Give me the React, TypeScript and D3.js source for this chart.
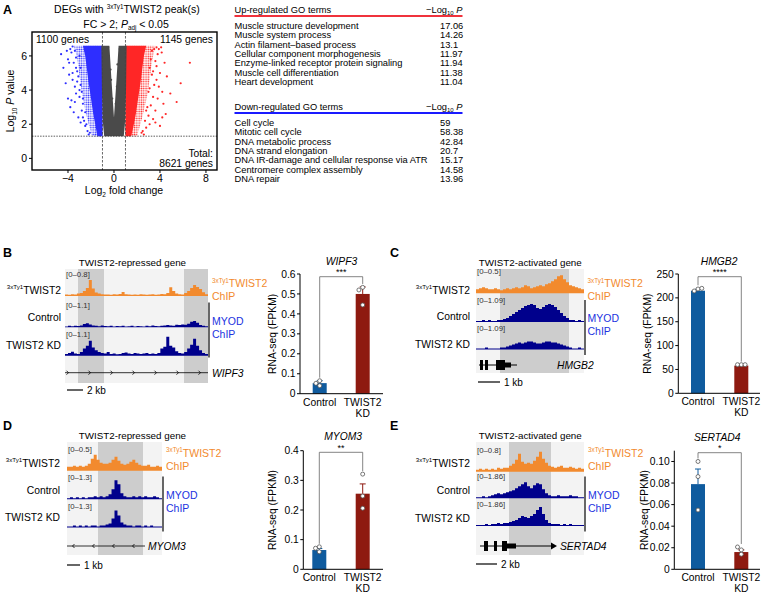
import React from "react";
import * as d3 from "d3";

const FONT = "'Liberation Sans', Arial, Helvetica, sans-serif";
const ORANGE = "#f28a2e";
const NAVY = "#00008c";
const LBLUE = "#2233e0";
const CTRL = "#0f5b9e";
const KDC = "#8e1a10";
const VBLUE = "#2e2eff";
const VRED = "#ff2626";
const VGRAY = "#4a4a4a";

// ---------------- Panel A data ----------------
const upGoTerms = [
  "Muscle structure development",
  "Muscle system process",
  "Actin filament–based process",
  "Cellular component morphogenesis",
  "Enzyme-linked receptor protein signaling",
  "Muscle cell differentiation",
  "Heart development",
];
const upGoLogP = [17.06, 14.26, 13.1, 11.97, 11.94, 11.38, 11.04];
const downGoTerms = [
  "Cell cycle",
  "Mitotic cell cycle",
  "DNA metabolic process",
  "DNA strand elongation",
  "DNA IR-damage and cellular response via ATR",
  "Centromere complex assembly",
  "DNA repair",
];
const downGoLogP = [59, 58.38, 42.84, 20.7, 15.17, 14.58, 13.96];

const volcanoXTicks = [-4, 0, 4, 8];
const volcanoYTicks = [0, 2, 4, 6];
const fcCutoffs = [-1, 1];
const pCutoff = 1.3;
const downCount = "1100 genes";
const upCount = "1145 genes";
const totalCount = "8621 genes";

// dense envelopes of points [log2FC, -log10 P]
const grayEnvelope: [number, number][] = [
  [-1.1, 6.6], [-0.4, 6.6], [-0.22, 4.6], [0, 2.4], [0.22, 4.6], [0.4, 6.6], [1.1, 6.6],
  [1.05, 4.0], [0.95, 2.0], [0.85, 1.3], [-0.85, 1.3], [-0.95, 2.0], [-1.05, 4.0],
];
const blueCore: [number, number][] = [
  [-1, 6.6], [-2.7, 6.6], [-2.5, 6.0], [-2.35, 5.2], [-2.2, 4.4], [-2.0, 3.5], [-1.8, 2.6], [-1.6, 1.9], [-1.45, 1.3], [-1, 1.3],
];
const blueFringe: [number, number][] = [
  [-1, 6.6], [-3.5, 6.6], [-3.25, 6.0], [-3.1, 5.4], [-2.95, 4.6], [-2.75, 3.7], [-2.5, 2.8], [-2.2, 2.0], [-1.9, 1.3], [-1, 1.3],
];
const redCore: [number, number][] = [
  [1, 6.6], [2.8, 6.6], [2.6, 6.0], [2.45, 5.2], [2.3, 4.4], [2.1, 3.5], [1.9, 2.6], [1.7, 1.9], [1.5, 1.3], [1, 1.3],
];
const redFringe: [number, number][] = [
  [1, 6.6], [3.6, 6.6], [3.4, 6.0], [3.25, 5.4], [3.1, 4.6], [2.9, 3.7], [2.6, 2.8], [2.3, 2.0], [2.0, 1.3], [1, 1.3],
];
const blueScatter: [number, number][] = [
  [-4.4, 5.3], [-4.0, 5.8], [-3.7, 6.2], [-3.6, 6.55], [-3.4, 6.3], [-3.8, 3.0], [-3.7, 3.4],
  [-3.4, 4.2], [-3.1, 4.8], [-3.0, 3.6], [-2.8, 2.8], [-2.7, 2.4], [-2.5, 1.9], [-3.1, 2.4], [-3.2, 5.1],
  [-3.5, 5.6], [-3.3, 5.9], [-2.9, 4.3], [-2.7, 3.2], [-3.6, 4.6], [-3.9, 4.9], [-4.6, 6.1], [-4.0, 3.5],
  [-2.9, 5.3], [-3.0, 6.0], [-2.6, 2.2], [-2.3, 1.6], [-2.1, 1.5], [-2.4, 2.0], [-3.3, 3.8], [-4.2, 4.4],
  [-2.8, 3.9], [-3.0, 4.0], [-3.6, 5.0], [-4.1, 6.3], [-3.2, 4.5], [-2.5, 2.7], [-2.7, 3.5], [-3.4, 3.3],
  [-3.8, 6.4], [-3.3, 5.3], [-2.9, 2.1], [-3.5, 2.7], [-2.2, 1.4], [-3.9, 5.6],
];
const redScatter: [number, number][] = [
  [6.6, 5.6], [5.8, 4.4], [5.45, 3.3], [4.5, 2.6], [4.15, 6.2], [4.9, 3.8], [3.7, 5.4], [4.6, 4.8],
  [3.6, 2.8], [4.0, 1.9], [3.1, 2.0], [3.5, 6.4], [3.8, 6.1], [3.3, 4.9], [3.9, 4.2], [3.4, 3.6],
  [3.0, 2.5], [2.8, 1.8], [2.5, 1.6], [3.2, 3.1], [4.3, 3.2], [3.6, 5.7], [3.2, 5.8], [3.5, 4.3],
  [2.9, 3.0], [4.0, 5.0], [3.4, 2.3], [2.7, 2.2], [3.8, 3.5], [3.1, 4.1], [3.7, 6.5], [4.4, 5.6],
  [3.0, 3.9], [2.6, 1.4], [3.3, 6.3], [2.8, 2.8], [3.6, 2.1], [4.2, 2.4], [3.9, 6.4], [3.1, 5.3],
  [4.1, 6.5], [3.4, 5.1], [2.4, 1.5], [3.7, 4.6], [4.2, 3.9],
];
const grayScatter: [number, number][] = [
  [-0.3, 5.2], [0.3, 5.5], [-0.15, 3.5], [0.15, 3.2], [-0.5, 6.5], [0.5, 6.4], [-0.25, 4.6], [0.25, 4.2],
];

// ---------------- Tracks (normalized coverage, 0–20 = full track range) ----------------
const bTwist = [1.5,1.2,1.8,1.5,2.5,3,5,8,16,7.5,3.5,2.5,1.8,1.5,1.5,1.2,1.8,1.5,2,4,1.8,1.5,1.2,1.5,1.2,1.8,1.5,1.2,1.5,1.8,1.2,1.5,2,1.8,3,8.7,5,2.5,1.8,1.5,3,5,8,11,9,7,3.8,1.8];
const bControl = [0.9,1.5,1.1,1.6,1.3,1.8,3.3,4,2.9,1.8,1.5,1.1,1.8,1.3,1.1,1.5,0.9,1.3,1.1,1.6,0.9,1.1,1.5,0.9,1.3,1.1,0.9,1.5,1.1,1.8,1.3,1.1,1.5,1.8,2.2,1.8,1.5,2.5,2.2,2.7,2.5,3.6,5.5,6.4,4.5,2.2,1.5,1.1];
const bKD = [1.8,2.7,4,2.2,1.8,3.6,7.3,10,15,8.2,5.5,3.6,2.7,2.2,3.6,1.8,2.2,1.5,1.8,2.7,3.3,2.2,1.8,2.7,2.2,1.8,2.2,2.7,1.8,2.2,1.8,2.7,7.3,9,19,10,8.2,4.5,2.7,2.2,3.6,7.3,11,17,10,5.5,2.7,1.8];

const cTwist = [4,5,6,5,4,4,5,4,3,4,5,4,5,6,5,6,8,7,5,6,7,8,7,9,10,12,14,17,18,14,11,8,7,6,5,4];
const cControl = [1,1,2,1,2,1,1,2,2,3,4,6,8,10,12,14,16,17,18,17,14,13,15,17,18,17,15,12,9,6,4,2,2,1,2,1];
const cKD = [1,1,1,2,1,1,1,1,2,2,3,4,5,6,7,6,7,8,8,7,6,6,7,8,8,7,7,6,5,4,3,2,1,1,2,1];

const dTwist = [4,4,5,4,5,4,5,7,12,16,11,8,7,7,8,11,14,10,7,6,7,9,11,8,6,5,5,6,4,4,5,4];
const dControl = [1,2,1,2,1,2,1,2,2,3,2,3,2,3,5,10,19,15,6,3,2,2,3,2,3,2,3,2,2,3,2,1];
const dKD = [1,1,2,1,2,1,2,1,2,2,1,2,2,3,4,9,17,12,5,3,2,2,1,2,2,1,2,1,2,1,1,1];

const eTwist = [2,3,2,3,2,3,2,4,3,4,4,6,8,12,18,10,8,9,8,11,15,20,13,9,6,5,4,5,6,4,4,5,4,3,4,3];
const eControl = [1,1,2,1,2,3,4,5,4,5,6,7,8,10,12,14,16,12,10,13,15,14,9,5,3,2,2,3,2,2,2,3,2,2,1,1];
const eKD = [1,1,1,2,1,2,2,3,2,3,3,4,5,6,8,10,9,8,10,12,16,19,12,6,3,2,2,2,1,2,1,2,1,1,1,1];

// ---------------- RNA-seq bar data ----------------
const conditions = ["Control", "TWIST2 KD"];
const wipf3Mean = [0.053, 0.5];
const wipf3Err = [0.012, 0.035];
const wipf3Pts = [[0.065, 0.052, 0.04], [0.533, 0.52, 0.445]];
const hmgb2Mean = [215, 58];
const hmgb2Err = [3, 1.5];
const hmgb2Pts = [[218.6, 214.4, 220], [60, 60, 60]];
const myom3Mean = [0.065, 0.255];
const myom3Err = [0.005, 0.033];
const myom3Pts = [[0.076, 0.071, 0.059], [0.321, 0.247, 0.206]];
const sertad4Mean = [0.079, 0.016];
const sertad4Err = [0.014, 0.002];
const sertad4Pts = [[0.1, 0.086, 0.055], [0.018, 0.0207, 0.014]];

// ---------------- helpers ----------------
function SupText({ x, y, anchor, color, size = 10.3, main = "TWIST2" }: any) {
  return (
    <text x={x} y={y} textAnchor={anchor} fill={color} fontSize={size}>
      <tspan fontSize={size * 0.6} dy={-size * 0.4}>3xTy1</tspan>
      <tspan dy={size * 0.4}>{main}</tspan>
    </text>
  );
}

function Coverage({ x0, x1, base, values, color, h = 20 }: any) {
  const x = d3.scaleLinear().domain([0, values.length]).range([x0, x1]);
  const y = d3.scaleLinear().domain([0, 20]).range([base, base - h]);
  const ext = [...values, values[values.length - 1]];
  const a = d3.area<number>().x((_, i) => x(i)).y0(base).y1((d) => y(d)).curve(d3.curveStepAfter);
  return <path d={a(ext) || ""} fill={color} />;
}

function TrackBlock({ x0, x1, top, bottom, highlights, rows }: any) {
  return (
    <g>
      <rect x={x0} y={top} width={x1 - x0} height={bottom - top} fill="#f3f3f3" />
      {highlights.map((h: number[], i: number) => (
        <rect key={i} x={h[0]} y={top} width={h[1] - h[0]} height={bottom - top} fill="#cdcdcd" />
      ))}
      {rows.map((r: any, i: number) => (
        <g key={i}>
          <Coverage x0={x0} x1={x1} base={r.base} values={r.values} color={r.color} />
          <text x={x0 + 1} y={r.base - 19} fontSize={7.8} fill="#333">{r.range}</text>
        </g>
      ))}
    </g>
  );
}

function Chevrons({ x0, x1, y, dir, step = 22, start = 3 }: any) {
  const xs = d3.range(x0 + start, x1 - 2, step);
  return (
    <g stroke="#000" strokeWidth={0.8} fill="none">
      <line x1={x0} x2={x1} y1={y} y2={y} />
      {xs.map((cx, i) => (
        <polyline key={i} points={dir > 0 ? `${cx - 1.5},${y - 2} ${cx + 0.5},${y} ${cx - 1.5},${y + 2}` : `${cx + 1.5},${y - 2} ${cx - 0.5},${y} ${cx + 1.5},${y + 2}`} />
      ))}
    </g>
  );
}

function ScaleBar({ x0, x1, y, label }: any) {
  return (
    <g>
      <line x1={x0} x2={x1} y1={y} y2={y} stroke="#000" strokeWidth={1.2} />
      <text x={x1 + 4} y={y + 3.5} fontSize={10}>{label}</text>
    </g>
  );
}

function SideLabels({ x, lineX, tw, myod }: any) {
  return (
    <g>
      <SupText x={x} y={tw} anchor="start" color={ORANGE} size={10.5} />
      <text x={x} y={tw + 13} fill={ORANGE} fontSize={10.5}>ChIP</text>
      <line x1={lineX} x2={lineX} y1={myod - 22} y2={myod + 33} stroke="#000" strokeWidth={1.2} />
      <text x={x} y={myod} fill={LBLUE} fontSize={10.5}>MYOD</text>
      <text x={x} y={myod + 13} fill={LBLUE} fontSize={10.5}>ChIP</text>
    </g>
  );
}

function RowLabels({ x, ys }: any) {
  return (
    <g>
      <SupText x={x} y={ys[0]} anchor="end" color="#000" size={10.3} />
      <text x={x} y={ys[1]} textAnchor="end" fontSize={10.3}>Control</text>
      <text x={x} y={ys[2]} textAnchor="end" fontSize={10.3}>TWIST2 KD</text>
    </g>
  );
}

function dodge(vals: number[], y: any, thr: number) {
  const placed: { px: number; py: number }[] = [];
  const offs = [0, -3.8, 3.8, -7.6, 7.6];
  return vals.map((v) => {
    const py = y(v);
    let px = 0;
    for (const o of offs) {
      if (!placed.some((p) => Math.abs(p.py - py) < thr && Math.abs(p.px - o) < 3.5)) { px = o; break; }
    }
    placed.push({ px, py });
    return { px, py };
  });
}

function BarChart({ axisX, xEnd, y0, yTop, domainMax, ticks, fmt, centers, means, errs, pts, title, stars, bracketY, ylabelX }: any) {
  const y = d3.scaleLinear().domain([0, domainMax]).range([y0, yTop]);
  const x = d3.scalePoint<string>().domain(conditions).range(centers);
  const bw = 14;
  const tops = conditions.map((c, i) => Math.min(y(means[i] + errs[i]), ...pts[i].map((v: number) => y(v))));
  const xm = (axisX + xEnd) / 2;
  return (
    <g>
      <text x={xm} y={bracketY - 12} textAnchor="middle" fontSize={10.3} fontStyle="italic">{title}</text>
      {conditions.map((c, i) => {
        const cx = x(c)!;
        const colr = i === 0 ? CTRL : KDC;
        const ps = dodge(pts[i], y, 3.5);
        return (
          <g key={c}>
            <rect x={cx - bw / 2} y={y(means[i])} width={bw} height={y0 - y(means[i])} fill={colr} />
            <line x1={cx} x2={cx} y1={y(means[i])} y2={y(means[i] + errs[i])} stroke={colr} strokeWidth={1} />
            <line x1={cx - 3} x2={cx + 3} y1={y(means[i] + errs[i])} y2={y(means[i] + errs[i])} stroke={colr} strokeWidth={1} />
            {ps.map((p, j) => (
              <circle key={j} cx={cx + p.px} cy={p.py} r={2} fill="#fff" stroke="#555" strokeWidth={0.8} />
            ))}
            <text x={cx} y={y0 + 12} textAnchor="middle" fontSize={10.3}>{i === 0 ? "Control" : "TWIST2"}</text>
            {i === 1 && <text x={cx} y={y0 + 23} textAnchor="middle" fontSize={10.3}>KD</text>}
          </g>
        );
      })}
      <path d={`M${x(conditions[0])},${tops[0] - 3}V${bracketY}H${x(conditions[1])}V${tops[1] - 3}`} fill="none" stroke="#666" strokeWidth={0.8} />
      <text x={(x(conditions[0])! + x(conditions[1])!) / 2} y={bracketY - 1.5} textAnchor="middle" fontSize={9}>{stars}</text>
      <line x1={axisX} x2={axisX} y1={y0} y2={yTop} stroke="#000" strokeWidth={1} />
      <line x1={axisX} x2={xEnd} y1={y0} y2={y0} stroke="#000" strokeWidth={1} />
      {ticks.map((t: number) => (
        <g key={t}>
          <line x1={axisX - 3} x2={axisX} y1={y(t)} y2={y(t)} stroke="#000" />
          <text x={axisX - 4.5} y={y(t) + 3.6} textAnchor="end" fontSize={10.3}>{fmt(t)}</text>
        </g>
      ))}
      <text transform={`translate(${ylabelX},${(y0 + yTop) / 2}) rotate(-90)`} textAnchor="middle" fontSize={10.3}>RNA-seq (FPKM)</text>
    </g>
  );
}

function Volcano() {
  const L = 32, R = 217, T = 32, B = 170;
  const x = d3.scaleLinear().domain([-7.13, 8.96]).range([L, R]);
  const y = d3.scaleLinear().domain([-0.68, 7.4]).range([B, T]);
  const line = d3.line<[number, number]>().x((d) => x(d[0])).y((d) => y(d[1]));
  const poly = (p: [number, number][]) => (line(p) || "") + "Z";
  return (
    <g>
      <defs>
        <clipPath id="vclip"><rect x={L} y={T} width={R - L} height={B - T} /></clipPath>
        <pattern id="bdots" width={2.3} height={2.3} patternUnits="userSpaceOnUse">
          <circle cx={1.15} cy={1.15} r={0.8} fill={VBLUE} />
        </pattern>
        <pattern id="rdots" width={2.3} height={2.3} patternUnits="userSpaceOnUse">
          <circle cx={1.15} cy={1.15} r={0.8} fill={VRED} />
        </pattern>
      </defs>
      <text x={127} y={13} textAnchor="middle" fontSize={10.5}>
        DEGs with <tspan fontSize={6.3} dy={-4}>3xTy1</tspan><tspan dy={4}>TWIST2 peak(s)</tspan>
      </text>
      <text x={126} y={27.5} textAnchor="middle" fontSize={10.5}>
        FC &gt; 2; <tspan fontStyle="italic">P</tspan><tspan fontSize={6.3} dy={2}>adj</tspan><tspan dy={-2}> &lt; 0.05</tspan>
      </text>
      <g clipPath="url(#vclip)">
        <path d={poly(blueFringe)} fill="url(#bdots)" />
        <path d={poly(redFringe)} fill="url(#rdots)" />
        <path d={poly(blueCore)} fill={VBLUE} />
        <path d={poly(redCore)} fill={VRED} />
        <path d={poly(grayEnvelope)} fill={VGRAY} />
        {grayScatter.map((d, i) => <circle key={"g" + i} cx={x(d[0])} cy={y(d[1])} r={1.1} fill={VGRAY} />)}
        {blueScatter.map((d, i) => <circle key={"b" + i} cx={x(d[0])} cy={y(d[1])} r={1.1} fill={VBLUE} />)}
        {redScatter.map((d, i) => <circle key={"r" + i} cx={x(d[0])} cy={y(d[1])} r={1.1} fill={VRED} />)}
        {fcCutoffs.map((c) => <line key={c} x1={x(c)} x2={x(c)} y1={T} y2={B} stroke="#444" strokeWidth={0.8} strokeDasharray="2.5,1.5" />)}
        <line x1={L} x2={R} y1={y(pCutoff)} y2={y(pCutoff)} stroke="#333" strokeWidth={0.8} strokeDasharray="1.5,1.2" />
      </g>
      <rect x={L} y={T} width={R - L} height={B - T} fill="none" stroke="#000" strokeWidth={1.4} />
      {volcanoXTicks.map((t) => (
        <g key={t}>
          <line x1={x(t)} x2={x(t)} y1={B} y2={B + 3} stroke="#000" />
          <text x={x(t)} y={B + 12} textAnchor="middle" fontSize={10.5}>{t < 0 ? "−" + Math.abs(t) : t}</text>
        </g>
      ))}
      {volcanoYTicks.map((t) => (
        <g key={t}>
          <line x1={L - 3} x2={L} y1={y(t)} y2={y(t)} stroke="#000" />
          <text x={L - 5} y={y(t) + 3.7} textAnchor="end" fontSize={10.5}>{t}</text>
        </g>
      ))}
      <text x={36} y={43} fontSize={10.3}>{downCount}</text>
      <text x={213} y={43} textAnchor="end" fontSize={10.3}>{upCount}</text>
      <text x={213} y={156.5} textAnchor="end" fontSize={10.3}>Total:</text>
      <text x={213} y={167} textAnchor="end" fontSize={10.3}>{totalCount}</text>
      <text x={124} y={194} textAnchor="middle" fontSize={10.5}>
        Log<tspan fontSize={6.5} dy={2.5}>2</tspan><tspan dy={-2.5}> fold change</tspan>
      </text>
      <text transform={`translate(14,${(T + B) / 2}) rotate(-90)`} textAnchor="middle" fontSize={10.5}>
        Log<tspan fontSize={6.5} dy={2.5}>10</tspan><tspan dy={-2.5}> </tspan><tspan fontStyle="italic">P</tspan> value
      </text>
    </g>
  );
}

function GoTable({ y0, title, color, terms, vals }: any) {
  const x0 = 234.5, x1 = 462.5, xv = 440;
  return (
    <g fontSize={9.3}>
      <text x={x0} y={y0}>{title}</text>
      <text x={x1} y={y0} textAnchor="end">
        −Log<tspan fontSize={6} dy={1.5}>10</tspan><tspan dy={-1.5}> </tspan><tspan fontStyle="italic">P</tspan>
      </text>
      <line x1={x0} x2={x1} y1={y0 + 3} y2={y0 + 3} stroke={color} strokeWidth={2.2} />
      {terms.map((t: string, i: number) => (
        <g key={t}>
          <text x={x0} y={y0 + 16 + i * 9.33}>{t}</text>
          <text x={xv} y={y0 + 16 + i * 9.33}>{String(vals[i])}</text>
        </g>
      ))}
    </g>
  );
}

export default function App() {
  const fmt1 = (d: number) => (d === 0 ? "0" : d3.format(".1f")(d));
  const fmt2 = (d: number) => (d === 0 ? "0" : d3.format(".2f")(d));
  return (
    <svg width={763} height={593} style={{ position: "absolute", left: 0, top: 0, background: "#fff" }} fontFamily={FONT}>
      <rect width={763} height={593} fill="#fff" />
      <g fontSize={12.5} fontWeight="bold">
        <text x={3} y={14}>A</text>
        <text x={3} y={257}>B</text>
        <text x={390} y={257}>C</text>
        <text x={3} y={430}>D</text>
        <text x={390} y={430}>E</text>
      </g>

      <Volcano />
      <GoTable y0={13} title="Up-regulated GO terms" color="#f0323c" terms={upGoTerms} vals={upGoLogP} />
      <GoTable y0={110} title="Down-regulated GO terms" color="#1a1aff" terms={downGoTerms} vals={downGoLogP} />

      {/* Panel B */}
      <text x={132.4} y={265.5} textAnchor="middle" fontSize={9.8}>TWIST2-repressed gene</text>
      <TrackBlock x0={65} x1={208} top={269} bottom={383} highlights={[[78, 104], [184, 208]]}
        rows={[
          { base: 296, range: "[0–0.8]", values: bTwist, color: ORANGE },
          { base: 327.3, range: "[0–1.1]", values: bControl, color: NAVY },
          { base: 355.7, range: "[0–1.1]", values: bKD, color: NAVY },
        ]} />
      <Chevrons x0={65} x1={208} y={372.7} dir={1} step={22} start={3} />
      <text x={212} y={377} fontSize={10.3} fontStyle="italic">WIPF3</text>
      <ScaleBar x0={67} x1={83} y={390} label="2 kb" />
      <RowLabels x={61} ys={[293.5, 321, 348.5]} />
      <SideLabels x={212} lineX={209} tw={287} myod={324.5} />
      <BarChart axisX={300} xEnd={383} y0={393.7} yTop={274} domainMax={0.6} ticks={[0, 0.1, 0.2, 0.3, 0.4, 0.5, 0.6]} fmt={fmt1}
        centers={[319.7, 362.7]} means={wipf3Mean} errs={wipf3Err} pts={wipf3Pts} title="WIPF3" stars="***" bracketY={276.7} ylabelX={276} />

      {/* Panel C */}
      <text x={530.3} y={265.5} textAnchor="middle" fontSize={9.8}>TWIST2-activated gene</text>
      <TrackBlock x0={476} x1={584} top={269} bottom={373} highlights={[[500, 569]]}
        rows={[
          { base: 293.3, range: "[0–0.5]", values: cTwist, color: ORANGE },
          { base: 322, range: "[0–1.09]", values: cControl, color: NAVY },
          { base: 349.5, range: "[0–1.09]", values: cKD, color: NAVY },
        ]} />
      <g>
        <line x1={479} x2={517} y1={365} y2={365} stroke="#000" strokeWidth={1} />
        <rect x={480} y={360} width={3} height={10} fill="#000" />
        <rect x={485} y={360} width={3} height={10} fill="#000" />
        <rect x={496} y={360} width={9} height={10} fill="#000" />
        <rect x={505} y={362.5} width={6} height={5} fill="#000" />
      </g>
      <text x={557} y={369} fontSize={10.3} fontStyle="italic">HMGB2</text>
      <ScaleBar x0={478} x1={500} y={382} label="1 kb" />
      <RowLabels x={470} ys={[293.5, 320, 347.5]} />
      <SideLabels x={587.5} lineX={585} tw={287} myod={322} />
      <BarChart axisX={678.3} xEnd={760} y0={393.3} yTop={274} domainMax={250} ticks={[0, 50, 100, 150, 200, 250]} fmt={(d: number) => String(d)}
        centers={[698, 741.3]} means={hmgb2Mean} errs={hmgb2Err} pts={hmgb2Pts} title="HMGB2" stars="****" bracketY={276.7} ylabelX={651} />

      {/* Panel D */}
      <text x={132.4} y={438.5} textAnchor="middle" fontSize={9.8}>TWIST2-repressed gene</text>
      <TrackBlock x0={67} x1={162} top={442} bottom={555} highlights={[[98, 143]]}
        rows={[
          { base: 470.7, range: "[0–0.5]", values: dTwist, color: ORANGE },
          { base: 499.3, range: "[0–1.3]", values: dControl, color: NAVY },
          { base: 527.5, range: "[0–1.3]", values: dKD, color: NAVY },
        ]} />
      <Chevrons x0={67} x1={145} y={546} dir={-1} step={20} start={6} />
      <text x={148} y={549.5} fontSize={10.3} fontStyle="italic">MYOM3</text>
      <ScaleBar x0={67} x1={80} y={565} label="1 kb" />
      <RowLabels x={60} ys={[466.5, 493.5, 521]} />
      <SideLabels x={166} lineX={163} tw={456.5} myod={498.5} />
      <BarChart axisX={303.3} xEnd={383} y0={569.3} yTop={450.7} domainMax={0.4} ticks={[0, 0.1, 0.2, 0.3, 0.4]} fmt={fmt1}
        centers={[319.3, 362.7]} means={myom3Mean} errs={myom3Err} pts={myom3Pts} title="MYOM3" stars="**" bracketY={452.3} ylabelX={276} />

      {/* Panel E */}
      <text x={530.3} y={438.5} textAnchor="middle" fontSize={9.8}>TWIST2-activated gene</text>
      <TrackBlock x0={476} x1={584} top={442} bottom={555} highlights={[[509, 551]]}
        rows={[
          { base: 471.7, range: "[0–0.8]", values: eTwist, color: ORANGE },
          { base: 498.3, range: "[0–1.86]", values: eControl, color: NAVY },
          { base: 526, range: "[0–1.86]", values: eKD, color: NAVY },
        ]} />
      <g>
        <line x1={480} x2={552} y1={546} y2={546} stroke="#000" strokeWidth={1.2} />
        <path d="M551,542.5 L557,546 L551,549.5 Z" fill="#000" />
        <rect x={484} y={541} width={4} height={10} fill="#000" />
        <rect x={494} y={541} width={3} height={10} fill="#000" />
        <rect x={502} y={541} width={5} height={10} fill="#000" />
        <rect x={507} y={543.5} width={9} height={5} fill="#000" />
      </g>
      <text x={560} y={549.5} fontSize={10.3} fontStyle="italic">SERTAD4</text>
      <ScaleBar x0={476} x1={497} y={564} label="2 kb" />
      <RowLabels x={470} ys={[466.5, 494, 521.5]} />
      <SideLabels x={588} lineX={585} tw={456.5} myod={498.5} />
      <BarChart axisX={674.3} xEnd={760} y0={569.3} yTop={450.7} domainMax={0.11} ticks={[0, 0.02, 0.04, 0.06, 0.08, 0.1]} fmt={fmt2}
        centers={[698, 741.3]} means={sertad4Mean} errs={sertad4Err} pts={sertad4Pts} title="SERTAD4" stars="*" bracketY={452.7} ylabelX={648.3} />
    </svg>
  );
}
